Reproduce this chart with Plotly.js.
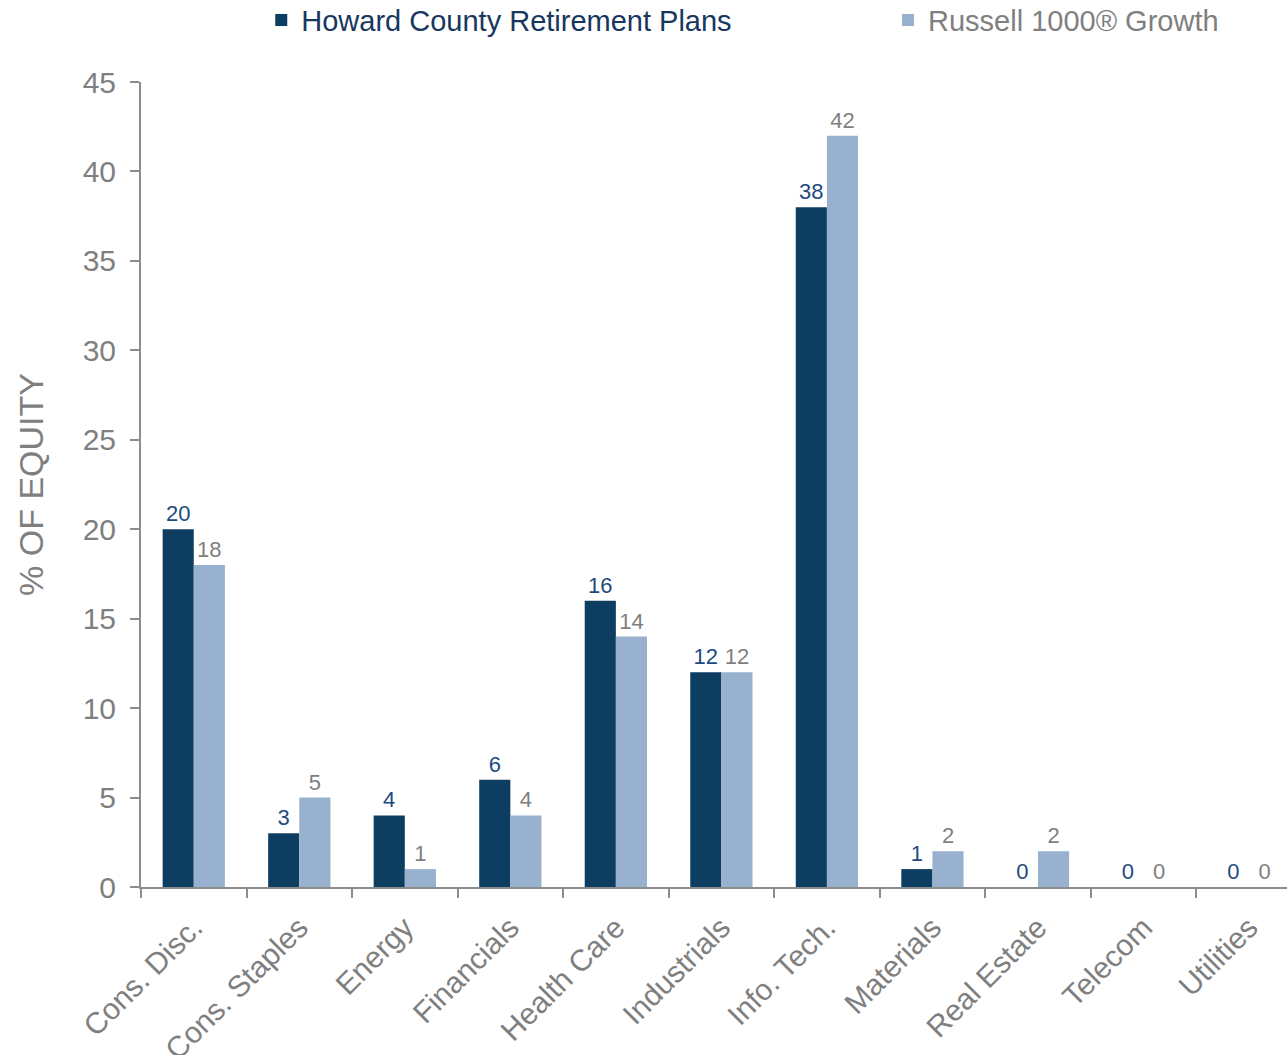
<!DOCTYPE html>
<html>
<head>
<meta charset="utf-8">
<script src="https://cdn.plot.ly/plotly-3.0.1.min.js"></script>
<style>
  html, body { margin: 0; padding: 0; background: #fff; }
  #chart { width: 1287px; height: 1055px; }
</style>
</head>
<body>
<div id="chart"></div>
<script>
// sector weights, % of equity
const sectors = [
  'Cons. Disc.', 'Cons. Staples', 'Energy', 'Financials', 'Health Care',
  'Industrials', 'Info. Tech.', 'Materials', 'Real Estate', 'Telecom', 'Utilities',
];
const howardCounty = [20, 3, 4, 6, 16, 12, 38, 1, 0, 0, 0];
const russellGrowth = [18, 5, 1, 4, 14, 12, 42, 2, 2, 0, 0];
const yTicks = [0, 5, 10, 15, 20, 25, 30, 35, 40, 45];

const fontFamily = 'Arial, "Liberation Sans", sans-serif';
const grey = '#7f7f7f';

const data = [
  {
    x: sectors,
    y: howardCounty,
    name: 'Howard County Retirement Plans',
    type: 'bar',
    legend: 'legend',
    marker: { color: '#0e3d62' },
    text: howardCounty.map(String),
    textposition: 'outside',
    cliponaxis: false,
    outsidetextfont: { family: fontFamily, size: 22, color: '#1e4b7f' },
    hoverinfo: 'x+y',
  },
  {
    x: sectors,
    y: russellGrowth,
    name: 'Russell 1000® Growth',
    type: 'bar',
    legend: 'legend2',
    marker: { color: '#98b1ce' },
    text: russellGrowth.map(String),
    textposition: 'outside',
    cliponaxis: false,
    outsidetextfont: { family: fontFamily, size: 22, color: grey },
    hoverinfo: 'x+y',
  },
];

// one legend per series so they sit far apart on the same row
const legendBase = {
  orientation: 'h',
  xref: 'container',
  yref: 'container',
  xanchor: 'left',
  y: 0.981,
  yanchor: 'middle',
  itemclick: false,
  itemdoubleclick: false,
};

const layout = {
  width: 1287,
  height: 1055,
  margin: { l: 141, r: 0, t: 82, b: 168 },
  paper_bgcolor: '#fff',
  plot_bgcolor: '#fff',
  font: { family: fontFamily, color: grey },
  barmode: 'group',
  bargap: 0.41,
  bargroupgap: 0,
  showlegend: true,
  legend: {
    ...legendBase,
    x: 0.203,
    font: { family: fontFamily, size: 29, color: '#17375e' },
  },
  legend2: {
    ...legendBase,
    x: 0.69,
    font: { family: fontFamily, size: 29, color: grey },
  },
  xaxis: {
    type: 'category',
    range: [-0.5, 10.36],
    tickangle: -45,
    tickson: 'boundaries',
    ticks: 'outside',
    ticklen: 9,
    tickwidth: 2,
    tickcolor: '#8c8c8c',
    showline: true,
    linecolor: '#8c8c8c',
    linewidth: 2,
    showgrid: false,
    tickfont: { family: fontFamily, size: 30, color: grey },
    ticklabelstandoff: 9,
    fixedrange: true,
  },
  yaxis: {
    range: [0, 45],
    tickvals: yTicks,
    ticks: 'outside',
    ticklen: 9,
    tickwidth: 2,
    tickcolor: '#8c8c8c',
    showline: true,
    linecolor: '#8c8c8c',
    linewidth: 2,
    showgrid: false,
    zeroline: false,
    tickfont: { family: fontFamily, size: 30, color: grey },
    ticklabelstandoff: 8,
    title: {
      text: '% OF EQUITY',
      font: { family: fontFamily, size: 34, color: grey },
      standoff: 29,
    },
    fixedrange: true,
  },
};

const config = { displayModeBar: false, responsive: false };

Plotly.newPlot('chart', data, layout, config);
</script>
</body>
</html>
